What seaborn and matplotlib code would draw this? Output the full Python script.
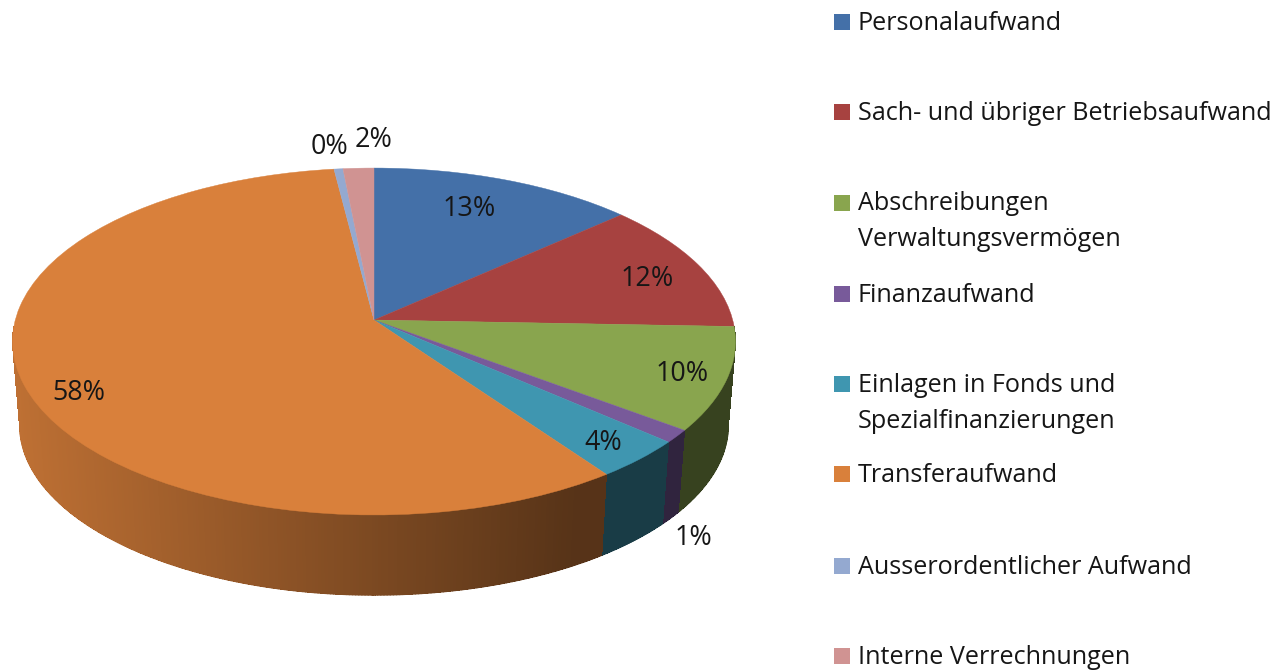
import numpy as np
import matplotlib
matplotlib.use("Agg")
import matplotlib.pyplot as plt
import matplotlib.transforms as mtransforms
from matplotlib.collections import PolyCollection, LineCollection
import seaborn as sns

categories = ["Personalaufwand", "Sach- und übriger Betriebsaufwand",
              "Abschreibungen\nVerwaltungsvermögen", "Finanzaufwand",
              "Einlagen in Fonds und\nSpezialfinanzierungen", "Transferaufwand",
              "Ausserordentlicher Aufwand", "Interne Verrechnungen"]
values = [13.4, 12.2, 9.6, 1.2, 3.7, 57.9, 0.45, 1.55]
colors = ["#4470a8", "#a74240", "#89a54e", "#785a9a", "#3f96b0", "#d9803b", "#94a9d0", "#d09392"]

label_xy = [(469, 209), (647, 279), (682, 374), (693, 538), (603, 443), (79, 393), (330, 147), (374, 140)]
legend_y = [23, 113, 203, 295, 385, 475, 567, 657]
swatch_y = [22, 112, 203, 294, 384, 474, 566, 656]

CX, CY = 374.0, 320.0
K, A, B = 0.124, 170.8, 358.7
ELL_CY, DROP, SHRINK = 341.5, 83.5, 0.98
FONT = "Open Sans"
FS = 18.1
FS_PCT = 19.4
TXT = "#161616"

sns.set_theme(style="white")
plt.rcParams["font.family"] = [FONT, "DejaVu Sans"]


class Persp(mtransforms.Transform):
    input_dims = 2
    output_dims = 2
    is_separable = False
    has_inverse = False

    def transform_non_affine(self, values):
        v = np.asarray(values, float)
        w = 1 + K * v[:, 1]
        return np.column_stack([CX + B * v[:, 0] / w, CY - A * v[:, 1] / w])


fig = plt.figure(figsize=(12.75, 6.71), dpi=100)
ax = fig.add_axes([0, 0, 1, 1])
persp = Persp()

# Side wall (front half only), derived from the slice values
frac = np.cumsum([0] + values) / sum(values)
polys, wall_cols, rim, rim_cols = [], [], [], []
for i, col in enumerate(colors):
    n = max(2, int(values[i] * 8))
    t = np.linspace(frac[i], frac[i + 1], n + 1) * 2 * np.pi
    top = persp.transform_non_affine(np.column_stack([np.sin(t), np.cos(t)]))
    bot = np.column_stack([CX + (top[:, 0] - CX) * SHRINK,
                           ELL_CY + DROP + (top[:, 1] - ELL_CY) * SHRINK])
    rgb = np.array(matplotlib.colors.to_rgb(col))
    for j in range(n):
        if np.cos(t[j]) > -0.04 and np.cos(t[j + 1]) > -0.04:
            continue
        xm = (top[j, 0] + top[j + 1, 0]) / 2
        f = np.clip(0.87 - (xm - 20) / 580 * 0.49, 0.40, 1)
        polys.append([top[j], top[j + 1], bot[j + 1], bot[j]])
        wall_cols.append(rgb * f)
        rim.append([bot[j], bot[j + 1]])
        rim_cols.append(rgb * f)
ax.add_collection(PolyCollection(polys, facecolors=wall_cols, edgecolors="none",
                                 linewidths=0, antialiaseds=False, zorder=0.5))
ax.add_collection(LineCollection(rim, colors=rim_cols, linewidths=1.0, capstyle="round", zorder=0.6))

# Top face
wedges, _ = ax.pie(values, colors=sns.color_palette(colors), startangle=90, counterclock=False)
for w in wedges:
    w.set_transform(persp + ax.transData)
    w.set_edgecolor(w.get_facecolor())
    w.set_linewidth(0.3)

ax.set_aspect("auto")
ax.set_xlim(0, 1275)
ax.set_ylim(671, 0)
ax.axis("off")

for (x, y), v in zip(label_xy, values):
    ax.text(x, y, f"{round(v)}%", ha="center", va="center", fontsize=FS_PCT, color=TXT)

ax.scatter([842] * len(categories), swatch_y, marker="s", s=135, c=colors, linewidths=0, clip_on=False)
for name, y in zip(categories, legend_y):
    for k, line in enumerate(name.split("\n")):
        ax.text(858, y + k * 36, line, ha="left", va="center", fontsize=FS, color=TXT)

fig.savefig("out.png", dpi=100)
